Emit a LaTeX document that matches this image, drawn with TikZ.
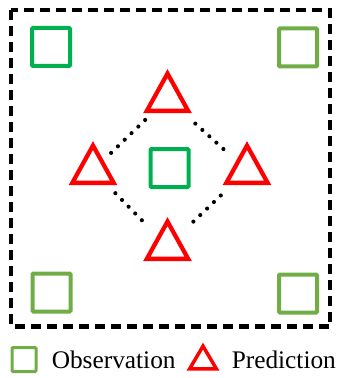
\documentclass[tikz,border=0pt]{standalone}
\usepackage{fontspec}
\setmainfont{Liberation Serif}
\usetikzlibrary{shapes.geometric,positioning,calc}
\definecolor{obsgreen}{HTML}{00B050}
\definecolor{obsolive}{HTML}{70AD47}
\definecolor{predred}{HTML}{FF0000}
\tikzset{
  obs/.style={rectangle,draw=obsolive,line width=3pt,minimum size=28.5pt,inner sep=0pt,rounded corners=0.8pt},
  obsc/.style={obs,draw=obsgreen},
  pred/.style={isosceles triangle,isosceles triangle apex angle=58,isosceles triangle stretches,
    shape border rotate=90,draw=predred,line width=3.2pt,minimum width=31pt,minimum height=28pt,
    inner sep=0pt,anchor=lower side},
  link/.style={line width=3.1pt,line cap=round,dash pattern=on 0pt off 7.1pt},
  frame/.style={line width=3.4pt,dash pattern=on 7.5pt off 4.5pt},
  lbl/.style={font=\fontsize{19pt}{21pt}\selectfont,inner sep=0pt,anchor=base west},
}
\begin{document}
\begin{tikzpicture}[x=0.75pt,y=-0.75pt]
    \useasboundingbox (0,0) rectangle (338,378);
    \draw[frame] (11,10) rectangle (330,326.5);
    % observations
    \node[obsc] (oTL) at (51,47) {};
    \node[obs] (oTR) at (298,47.5) {};
    \node[obs] (oBL) at (51.5,292.5) {};
    \node[obs] (oBR) at (298,293.5) {};
    \node[obsc] (oC) at (169.5,168) {};
    % predictions, placed by their base
    \node[pred] (pT) at (167.5,113) {};
    \node[pred] (pL) at (93,185) {};
    \node[pred] (pR) at (247,185) {};
    \node[pred] (pB) at (167.5,261) {};
    % centroids of the triangles
    \foreach \p in {T,L,R,B}
      \coordinate (c\p) at ($(p\p.apex)!2/3!(p\p.lower side)$);
    % dotted links between predictions
    \draw[link] ($(cT)!0.30!(cL)$) -- ($(cT)!0.76!(cL)$);
    \draw[link] ($(cT)!0.35!(cR)$) -- ($(cT)!0.79!(cR)$);
    \draw[link] ($(cL)!0.30!(cB)$) -- ($(cL)!0.74!(cB)$);
    \draw[link] ($(cR)!0.33!(cB)$) -- ($(cR)!0.76!(cB)$);
    % legend
    \node[obs,minimum size=18pt,line width=2.25pt] (kObs) at (24,359.5) {};
    \node[lbl] (tObs) at (51.5,368.5) {Observation};
    \node[pred,minimum width=20pt,minimum height=17pt,line width=2.6pt] (kPred) at (203,370.5) {};
    \node[lbl] (tPred) at (231.5,368.5) {Prediction};
  \end{tikzpicture}
\end{document}
